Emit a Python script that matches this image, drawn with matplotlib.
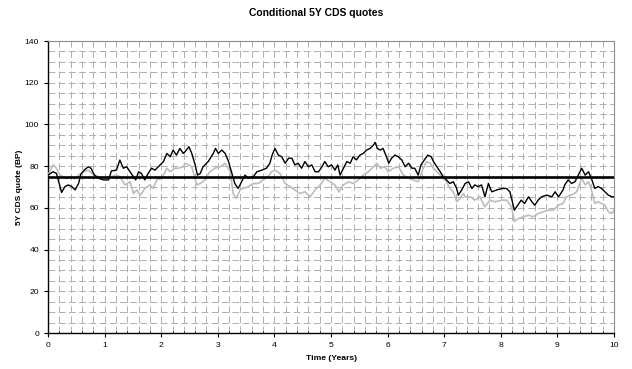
import matplotlib.pyplot as plt
from matplotlib.ticker import MultipleLocator

plt.rcParams['font.family'] = ['Liberation Sans', 'DejaVu Sans']

# conditional quote path (black) - time in years, quote in bp
t_black = [0.00, 0.09, 0.15, 0.19, 0.24, 0.30, 0.36, 0.42, 0.48, 0.54,
           0.58, 0.64, 0.71, 0.76, 0.82, 0.89, 0.98, 1.07, 1.12, 1.21,
           1.27, 1.33, 1.39, 1.45, 1.51, 1.55, 1.60, 1.65, 1.71, 1.77,
           1.83, 1.89, 1.98, 2.04, 2.10, 2.16, 2.21, 2.27, 2.33, 2.39,
           2.42, 2.49, 2.54, 2.60, 2.64, 2.69, 2.74, 2.83, 2.92, 2.96,
           3.01, 3.07, 3.13, 3.19, 3.25, 3.30, 3.36, 3.42, 3.48, 3.54,
           3.63, 3.69, 3.78, 3.86, 3.92, 3.96, 4.01, 4.07, 4.13, 4.19,
           4.25, 4.31, 4.36, 4.42, 4.48, 4.54, 4.60, 4.66, 4.72, 4.78, 4.84,
           4.89, 4.95, 5.01, 5.07, 5.12, 5.16, 5.22, 5.28, 5.34, 5.39,
           5.45, 5.51, 5.57, 5.63, 5.69, 5.75, 5.78, 5.82, 5.87, 5.92,
           5.98, 6.02, 6.07, 6.13, 6.19, 6.25, 6.31, 6.37, 6.43, 6.48,
           6.54, 6.59, 6.65, 6.71, 6.77, 6.81, 6.87, 6.93, 6.98, 7.04,
           7.10, 7.16, 7.22, 7.25, 7.31,
           7.37, 7.43, 7.49, 7.54, 7.60, 7.66, 7.72, 7.78, 7.84, 7.93,
           8.02, 8.10, 8.16, 8.19, 8.24, 8.30, 8.36, 8.42, 8.49, 8.55,
           8.60, 8.66, 8.72, 8.81, 8.90, 8.96, 9.02, 9.10, 9.13, 9.19,
           9.25, 9.31, 9.37, 9.43, 9.49, 9.55, 9.61, 9.66, 9.72, 9.78,
           9.84, 9.90, 9.96, 10.00]
q_black = [75.7, 77.3, 76.5, 72.5, 67.4, 70.2, 71.0, 70.2, 68.6, 71.7,
           76.1, 78.1, 79.7, 79.0, 75.7, 74.2, 73.4, 73.4, 77.7, 78.1,
           82.9, 79.0, 79.7, 77.3, 74.9, 73.4, 77.3, 76.5, 73.4, 76.5,
           79.0, 78.1, 80.6, 82.2, 86.1, 84.5, 87.7, 85.3, 88.5, 86.1,
           86.9, 89.3, 86.1, 80.6, 75.7, 76.5, 79.7, 82.2, 86.1, 88.5,
           86.1, 87.7, 86.1, 82.2, 76.5, 71.7, 69.3, 72.5, 75.7, 74.2,
           75.0, 77.3, 78.1, 79.0, 81.4, 85.3, 88.5, 85.3, 84.5, 81.4,
           83.8, 83.8, 80.6, 81.4, 79.0, 82.2, 79.7, 80.6, 77.3, 77.3, 79.7,
           82.2, 79.7, 80.6, 78.1, 80.6, 75.7, 79.0, 82.2, 81.4, 84.5,
           83.0, 85.3, 86.1, 87.7, 88.5, 90.1, 91.4, 88.5, 87.7, 88.5,
           84.5, 81.4, 83.8, 85.3, 84.5, 83.0, 79.7, 81.4, 79.0, 79.0,
           75.7, 80.6, 83.0, 85.3, 84.5, 82.2, 79.7, 77.3, 75.0, 73.4,
           71.7, 72.5, 69.3, 66.1, 68.6,
           71.7, 72.5, 69.3, 71.0, 70.2, 71.0, 65.3, 71.7, 67.7, 68.6,
           69.3, 69.3, 67.7, 64.5, 58.9, 61.3, 63.7, 62.1, 65.3, 62.9,
           61.3, 63.7, 65.3, 66.1, 65.3, 67.7, 65.3, 68.6, 71.0, 73.4,
           71.7, 72.5, 75.7, 79.0, 75.7, 77.3, 73.4, 69.3, 70.2, 69.3,
           67.7, 66.1, 65.3, 65.3]

# second path (grey)
t_grey = [0.00, 0.09, 0.15, 0.21, 0.27, 0.33, 0.39, 0.48, 0.54, 0.62,
          0.71, 0.80, 0.89, 1.01, 1.12, 1.21, 1.27, 1.36, 1.45, 1.51,
          1.57, 1.63, 1.71, 1.80, 1.86, 1.92, 2.01, 2.10, 2.16, 2.24,
          2.30, 2.39,
          2.42, 2.54, 2.63, 2.69, 2.77, 2.86, 2.95, 3.04, 3.13, 3.22,
          3.27, 3.33, 3.39, 3.45, 3.54, 3.63, 3.72, 3.80, 3.89, 3.95,
          4.01, 4.10, 4.19, 4.28, 4.36, 4.45, 4.54, 4.63, 4.72, 4.81,
          4.89, 4.98, 5.07, 5.14, 5.22, 5.31, 5.39, 5.48, 5.57, 5.66,
          5.75, 5.81, 5.87, 5.95, 6.01, 6.10, 6.19, 6.28, 6.37, 6.45,
          6.54, 6.63, 6.69, 6.75, 6.81, 6.90, 6.98, 7.04, 7.10, 7.16,
          7.22, 7.28, 7.34,
          7.37, 7.46, 7.54, 7.63, 7.72, 7.81, 7.90, 8.02, 8.10, 8.19,
          8.24, 8.31, 8.40, 8.49, 8.57, 8.66, 8.75, 8.84, 8.93, 9.02,
          9.10, 9.16, 9.25, 9.34, 9.43, 9.49, 9.55, 9.61, 9.66, 9.72,
          9.78, 9.84, 9.90, 9.96, 10.00]
q_grey = [75.7, 80.6, 79.0, 75.7, 75.0, 74.0, 75.0, 74.0, 75.7, 77.3,
          78.0, 76.0, 75.0, 74.5, 75.0, 75.7, 75.0, 71.0, 72.5, 66.9,
          68.6, 66.0, 69.3, 71.0, 69.3, 73.4, 74.2, 79.0, 77.3, 79.0,
          79.0, 79.7,
          81.4, 79.7, 71.0, 71.7, 73.4, 77.3, 79.0, 79.7, 81.4, 77.3,
          66.9, 64.5, 68.6, 69.3, 70.2, 71.7, 71.7, 73.4, 75.0, 77.3,
          78.1, 76.5, 71.7, 70.2, 68.6, 66.9, 67.7, 65.3, 68.6, 71.0,
          74.2, 72.5, 71.0, 67.7, 71.0, 72.5, 71.7, 73.4, 75.7, 77.3,
          79.7, 81.4, 79.0, 79.7, 77.3, 79.0, 79.7, 75.7, 74.2, 73.4,
          72.5, 79.0, 82.2, 81.4, 79.0, 76.5, 74.2, 72.5, 69.3, 67.7,
          62.9, 64.5, 66.9,
          65.3, 65.3, 63.7, 65.3, 60.5, 63.7, 62.9, 63.7, 63.7, 60.5,
          53.5, 54.9, 55.7, 56.5, 55.7, 57.3, 58.1, 58.9, 58.9, 61.3,
          62.1, 65.3, 66.1, 67.7, 74.2, 71.0, 72.5, 67.7, 62.1, 62.9,
          62.1, 61.3, 58.1, 57.3, 58.9]

# current quote, flat
t_flat = [0, 10]
q_flat = [75, 75]

fig = plt.figure(figsize=(6.32, 3.69), dpi=100)
ax = fig.add_axes([48 / 632, 36 / 369, 566 / 632, 292 / 369])

ax.plot(t_grey, q_grey, color='#bdbdbd', lw=1.2, zorder=3)
ax.plot(t_black, q_black, color='black', lw=1.0, zorder=4)
ax.plot(t_flat, q_flat, color='black', lw=1.9, zorder=5)

ax.set_xlim(0, 10)
ax.set_ylim(0, 140)
ax.xaxis.set_major_locator(MultipleLocator(1))
ax.xaxis.set_minor_locator(MultipleLocator(0.2))
ax.yaxis.set_major_locator(MultipleLocator(20))
ax.yaxis.set_minor_locator(MultipleLocator(5))

ax.grid(which='both', color='#afafaf', lw=0.7, linestyle=(0, (7, 3.5)), zorder=1)
ax.tick_params(axis='both', which='major', labelsize=6.1, length=3, width=0.8, pad=3.5)
ax.tick_params(axis='x', which='minor', direction='in', length=1.6, width=0.6)
ax.tick_params(axis='y', which='minor', length=0)

for s in ['left', 'bottom']:
    ax.spines[s].set_color('black')
    ax.spines[s].set_linewidth(1.0)
for s in ['top', 'right']:
    ax.spines[s].set_color('#8c8c8c')
    ax.spines[s].set_linewidth(0.8)

ax.set_xlabel('Time (Years)', fontsize=6.1, fontweight='bold', labelpad=4)
ax.set_ylabel('5Y CDS quote (BP)', fontsize=6.0, fontweight='bold', labelpad=1.5)
fig.text(0.5, 1 - 13 / 369, 'Conditional 5Y CDS quotes', ha='center', va='center',
         fontsize=7.5, fontweight='bold')

fig.savefig('out.png', dpi=100)
